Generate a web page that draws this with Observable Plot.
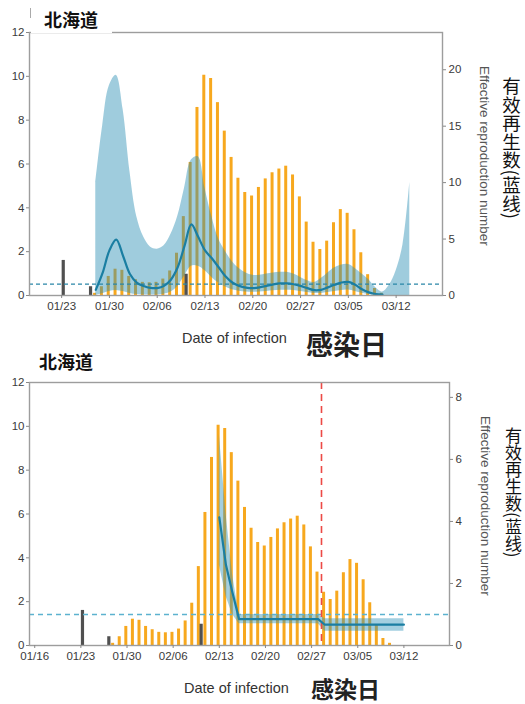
<!DOCTYPE html>
<html><head><meta charset="utf-8">
<script src="https://cdn.jsdelivr.net/npm/d3@7"></script>
<script src="https://cdn.jsdelivr.net/npm/@observablehq/plot@0.6"></script>
<style>
body{margin:0;background:#fff;font-family:"Liberation Sans",Arial,sans-serif;}
#wrap{position:relative;width:525px;height:704px;overflow:hidden;background:#fff;}
#wrap svg{position:absolute;left:0;}
.t{position:absolute;white-space:nowrap;line-height:1;}
.cjk{font-family:"Noto Sans CJK SC",sans-serif;}
.vert{writing-mode:vertical-rl;}
</style></head><body><div id="wrap"></div>
<script>
// ---- data ----
const caseDates = ["2020-01-28","2020-01-29","2020-01-30","2020-01-31","2020-02-01","2020-02-02","2020-02-03","2020-02-04","2020-02-05","2020-02-06","2020-02-07","2020-02-08","2020-02-09","2020-02-10","2020-02-11","2020-02-12","2020-02-13","2020-02-14","2020-02-15","2020-02-16","2020-02-17","2020-02-18","2020-02-19","2020-02-20","2020-02-21","2020-02-22","2020-02-23","2020-02-24","2020-02-25","2020-02-26","2020-02-27","2020-02-28","2020-02-29","2020-03-01","2020-03-02","2020-03-03","2020-03-04","2020-03-05","2020-03-06","2020-03-07","2020-03-08","2020-03-09","2020-03-10"];
const caseValues = [0.1,0.4,0.87,1.2,1.15,0.87,0.72,0.6,0.58,0.6,0.75,1.12,1.93,3.6,6.07,8.58,10.05,9.9,8.8,7.5,6.3,5.35,4.7,4.54,4.93,5.32,5.6,5.77,5.9,5.5,4.5,3.35,2.43,2.1,2.48,3.32,3.92,3.75,3.0,1.95,0.95,0.32,0.1];
const importDates = ["2020-01-23","2020-01-27","2020-02-10"];
const importValues = [1.6,0.4,0.97];

// panel 1: smoothed effective reproduction number
const rt1Dates = ["2020-01-28","2020-01-29","2020-01-30","2020-01-31","2020-02-01","2020-02-02","2020-02-03","2020-02-04","2020-02-05","2020-02-06","2020-02-07","2020-02-08","2020-02-09","2020-02-10","2020-02-11","2020-02-12","2020-02-13","2020-02-14","2020-02-15","2020-02-16","2020-02-17","2020-02-18","2020-02-19","2020-02-20","2020-02-21","2020-02-22","2020-02-23","2020-02-24","2020-02-25","2020-02-26","2020-02-27","2020-02-28","2020-02-29","2020-03-01","2020-03-02","2020-03-03","2020-03-04","2020-03-05","2020-03-06","2020-03-07","2020-03-08","2020-03-09","2020-03-10"];
const rt1Values = [0.5,2.0,4.0,4.95,3.5,1.9,1.15,0.85,0.68,0.66,0.85,1.4,2.5,4.4,6.3,5.2,4.0,3.3,2.5,1.7,1.15,0.85,0.7,0.65,0.72,0.85,0.98,1.07,1.08,1.0,0.85,0.65,0.47,0.5,0.72,0.95,1.15,1.2,0.95,0.55,0.28,0.13,0.08];
const band1Dates = rt1Dates.concat(["2020-03-11","2020-03-12","2020-03-13","2020-03-14"]);
const band1Upper = [10.0,15.0,18.6,19.5,16.5,11.0,7.0,5.2,4.3,4.1,4.4,5.4,7.0,9.5,12.0,12.3,9.5,7.0,5.0,3.9,3.0,2.4,2.0,1.8,1.8,1.9,2.0,2.05,2.05,1.9,1.6,1.3,1.15,1.5,2.0,2.45,2.7,2.75,2.4,1.9,1.4,0.7,0.3,0.9,2.2,4.5,10.0];
const band1Lower = [0.0,0.15,0.35,0.45,0.35,0.18,0.08,0.05,0.04,0.05,0.1,0.3,0.8,1.7,2.6,2.6,2.2,1.6,1.1,0.75,0.5,0.38,0.3,0.28,0.3,0.36,0.42,0.46,0.47,0.44,0.36,0.26,0.18,0.18,0.26,0.36,0.45,0.48,0.36,0.2,0.08,0.02,0,0,0,0,0];

// panel 2: piecewise effective reproduction number
const rt2Dates = ["2020-02-13","2020-02-14","2020-02-15","2020-02-16","2020-02-28","2020-02-29","2020-03-12"];
const rt2Values = [4.13,2.6,1.7,0.85,0.85,0.67,0.67];
const band2Upper = [6.8,4.3,2.3,1.0,1.0,0.86,0.86];
const band2Lower = [2.6,1.6,1.0,0.7,0.7,0.46,0.46];
const eventDates = ["2020-02-28T12:00:00Z"];

const leftTicks = [0,2,4,6,8,10,12];
const rtTicks1 = [0,5,10,15,20];
const rtTicks2 = [0,2,4,6,8];
const xTicks1 = ["2020-01-23","2020-01-30","2020-02-06","2020-02-13","2020-02-20","2020-02-27","2020-03-05","2020-03-12"];
const xTicks2 = ["2020-01-16"].concat(xTicks1);
const caseMax = 12, rtMax1 = 23.3, rtMax2 = 8.48;
const threshold = [1];

// ---- build ----
const orange = "#f7a81e";
const cases = caseDates.map((d,i)=>({date:new Date(d), v:caseValues[i]}));
const imports = importDates.map((d,i)=>({date:new Date(d), v:importValues[i]}));
const line1 = rt1Dates.map((d,i)=>({date:new Date(d), v:rt1Values[i]}));
const band1 = band1Dates.map((d,i)=>({date:new Date(d), hi:band1Upper[i], lo:band1Lower[i]}));
const line2 = rt2Dates.map((d,i)=>({date:new Date(d), v:rt2Values[i]}));
const band2 = rt2Dates.map((d,i)=>({date:new Date(d), hi:band2Upper[i], lo:band2Lower[i]}));
const fmt = d3.utcFormat("%m/%d");
const style = {fontFamily:"'Liberation Sans', Arial, sans-serif", fontSize:"11.5px", color:"#3a3a3a", background:"transparent", overflow:"visible"};

function panel(opt){
  const k = caseMax / opt.rtMax;
  return Plot.plot({
    width:525, height:opt.height,
    marginLeft:29, marginRight:opt.marginRight, marginTop:opt.marginTop, marginBottom:opt.marginBottom,
    style,
    x:{type:"utc", domain:opt.xDomain},
    y:{domain:[0,caseMax]},
    marks:[
      Plot.ruleX(cases, {x:"date", y1:0, y2:"v", stroke:orange, strokeWidth:3, dx:-1.2}),
      Plot.ruleX(imports, {x:"date", y1:0, y2:"v", stroke:"#505050", strokeWidth:3.2, dx:1.6}),
      Plot.areaY(opt.band, {x:"date", y1:d=>d.lo*k, y2:d=>d.hi*k, fill:opt.bandFill, fillOpacity:opt.bandOpacity, curve:opt.curve}),
      Plot.ruleY(threshold, {y:d=>d*k, stroke:opt.dashColor, strokeWidth:opt.dashWidth, strokeDasharray:opt.dash}),
      opt.events ? Plot.ruleX(opt.events.map(d=>new Date(d)), {stroke:"#ec4a46", strokeWidth:1.6, strokeDasharray:"7,5"}) : null,
      Plot.lineY(opt.line, {x:"date", y:d=>d.v*k, stroke:"#1a7ea2", strokeWidth:2.2, curve:opt.curve}),
      Plot.frame({stroke:"#9d9d9d", strokeWidth:1.4}),
      Plot.axisY(leftTicks, {anchor:"left", tickSize:3, tickPadding:2, label:null, stroke:"#888"}),
      Plot.axisY(opt.rtTicks.map(t=>t*k), {anchor:"right", tickSize:3, tickPadding:3, label:null, stroke:"#888", tickFormat:d=>String(Math.round(d/k))}),
      Plot.axisX(opt.xTicks.map(d=>new Date(d)), {tickSize:3, tickPadding:3, label:null, stroke:"#888", tickFormat:fmt})
    ]
  });
}

const wrap = document.getElementById("wrap");
const p1 = panel({height:350, marginRight:83, marginTop:32, marginBottom:55, rtMax:rtMax1,
  xDomain:[new Date("2020-01-18T07:00:00Z"), new Date("2020-03-18T19:00:00Z")],
  band:band1, line:line1, bandFill:"#2a8db4", bandOpacity:0.45, curve:"catmull-rom",
  dashColor:"#2a86a8", dashWidth:1.2, dash:"4,3", rtTicks:rtTicks1, xTicks:xTicks1});
p1.style.top = "0px";
wrap.appendChild(p1);
const p2 = panel({height:354, marginRight:76, marginTop:32, marginBottom:59, rtMax:rtMax2,
  xDomain:[new Date("2020-01-15T05:00:00Z"), new Date("2020-03-18T22:00:00Z")],
  band:band2, line:line2, bandFill:"#3494bb", bandOpacity:0.45, curve:"linear",
  dashColor:"#5cb2cf", dashWidth:1.6, dash:"5,4", rtTicks:rtTicks2, xTicks:xTicks2, events:eventDates});
p2.style.top = "350px";
wrap.appendChild(p2);

function addText(txt, cls, css){
  const el = document.createElement("div");
  el.className = "t " + cls;
  el.textContent = txt;
  Object.assign(el.style, css);
  wrap.appendChild(el);
  return el;
}
// panel 1 texts
addText("", "", {left:"31px", top:"0px", width:"81px", height:"33px", background:"#fff"});
addText("", "", {left:"29.5px", top:"8px", width:"1.5px", height:"10px", background:"#aaa"});
addText("北海道", "cjk", {left:"44px", top:"10px", fontSize:"18px", fontWeight:"700", color:"#111"});
addText("Date of infection", "", {left:"182px", top:"331px", fontSize:"14.5px", color:"#333"});
addText("感染日", "cjk", {left:"306px", top:"330px", fontSize:"27px", fontWeight:"700", color:"#222"});
addText("Effective reproduction number", "vert", {left:"477px", top:"66px", fontSize:"13.5px", color:"#555"});
addText("有效再生数(蓝线)", "cjk vert", {left:"502px", top:"77px", fontSize:"18.5px", color:"#111"});
// panel 2 texts
addText("北海道", "cjk", {left:"39px", top:"352px", fontSize:"18px", fontWeight:"700", color:"#111"});
addText("Date of infection", "", {left:"184px", top:"681px", fontSize:"14.5px", color:"#333"});
addText("感染日", "cjk", {left:"311px", top:"677px", fontSize:"23px", fontWeight:"700", color:"#222"});
addText("Effective reproduction number", "vert", {left:"478px", top:"416px", fontSize:"13.5px", color:"#555"});
addText("有效再生数(蓝线)", "cjk vert", {left:"505px", top:"427px", fontSize:"17px", color:"#111"});
</script></body></html>
